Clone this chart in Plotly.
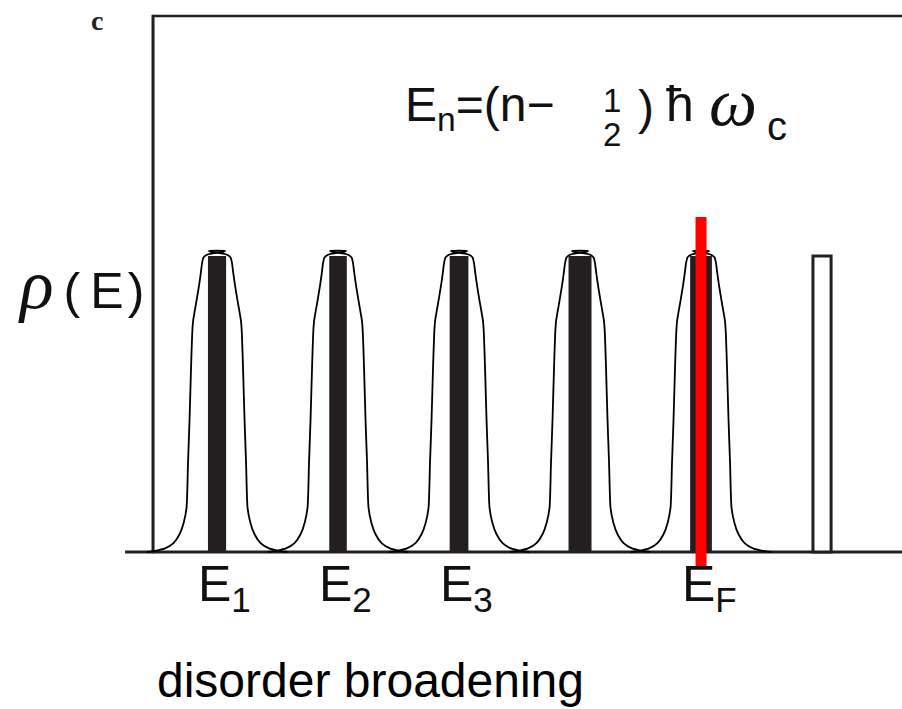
import plotly.graph_objects as go

# ---- data -------------------------------------------------------------
levels = [1, 2, 3, 4, 5]                 # Landau levels E1..E5 (units of level spacing)
level_heights = [1.0, 1.0, 1.0, 1.0, 1.0]
bar_widths = [0.15, 0.145, 0.155, 0.19, 0.18]
empty_level = [6]
empty_height = [1.0]
empty_width = [0.15]
tick_text = ["E<sub>1</sub>", "E<sub>2</sub>", "E<sub>3</sub>", "", "E<sub>F</sub>"]
fermi_energy = 5.0
fermi_y = [-0.054, 1.132]

# disorder-broadened profile (left half):
# distance left of level centre (level spacings) vs height
profile_dx = [0.58, 0.50, 0.43, 0.36, 0.31, 0.275, 0.252, 0.24, 0.227, 0.215, 0.205, 0.198,
              0.169, 0.149, 0.135, 0.124, 0.112, 0.083, 0.05, 0.0, -0.04, -0.066]
profile_h = [0.0, 0.005, 0.012, 0.03, 0.06, 0.10, 0.15, 0.3, 0.45, 0.62, 0.74, 0.78,
             0.85, 0.90, 0.94, 0.975, 0.995, 1.004, 1.008, 1.011, 1.013, 1.017]

# ---- geometry of the page --------------------------------------------
L, R, T, B = 120, 0, 10, 129
PW, PH = 902 - L - R, 709 - T - B
x_range = [0.198, 6.661]
y_range = [-0.0946, 1.831]


def px(xp):
    return (xp - L) / PW


def py(yp):
    return (709 - B - yp) / PH


fig = go.Figure()

fig.add_trace(go.Bar(x=levels, y=level_heights, width=bar_widths,
                     marker=dict(color="#231f20", line=dict(width=0)),
                     showlegend=False, hoverinfo="skip"))
fig.add_trace(go.Bar(x=empty_level, y=empty_height, width=empty_width,
                     marker=dict(color="white", line=dict(color="#231f20", width=3)),
                     showlegend=False, hoverinfo="skip"))

for c in levels:
    xs = [c - d for d in profile_dx] + [c + d for d in reversed(profile_dx)]
    ys = list(profile_h) + list(reversed(profile_h))
    fig.add_trace(go.Scatter(x=xs, y=ys, mode="lines",
                             line=dict(color="black", width=1.8, shape="spline", smoothing=0.6),
                             showlegend=False, hoverinfo="skip"))

fig.add_trace(go.Scatter(x=[fermi_energy, fermi_energy], y=fermi_y, mode="lines",
                         line=dict(color="#ff0000", width=11),
                         showlegend=False, hoverinfo="skip"))

# frame
frame_left = 0.471
frame_top = 1.811
fig.add_shape(type="line", x0=frame_left, x1=frame_left, y0=-0.004, y1=frame_top + 0.004,
              line=dict(color="#231f20", width=3), layer="below")
fig.add_shape(type="line", x0=frame_left, x1=x_range[1], y0=frame_top, y1=frame_top,
              line=dict(color="#231f20", width=2.5), layer="below")
fig.add_shape(type="line", x0=0.24, x1=x_range[1], y0=0, y1=0,
              line=dict(color="#231f20", width=3), layer="below")

ann = []
sans = "Liberation Sans, Arial, sans-serif"
ink = "#111"
ann.append(dict(x=px(97), y=py(20), xref="paper", yref="paper", xanchor="center", yanchor="middle",
                text="<b>c</b>", showarrow=False,
                font=dict(family="Liberation Serif", size=28, color="#222")))
ann.append(dict(x=px(16), y=py(284), xref="paper", yref="paper", xanchor="left", yanchor="middle",
                text="<span style='font-family:Liberation Serif;font-size:70px'><i>ρ</i></span>\u2009(\u2009E\u200a)",
                showarrow=False, font=dict(family=sans, size=50, color=ink)))
# equation
ann.append(dict(x=px(403), y=py(108), xref="paper", yref="paper", xanchor="left", yanchor="middle",
                text="E<sub>n</sub>=(n−", showarrow=False, font=dict(family=sans, size=48, color=ink)))
ann.append(dict(x=px(612), y=py(100), xref="paper", yref="paper", xanchor="center", yanchor="middle",
                text="1", showarrow=False, font=dict(family=sans, size=33, color=ink)))
ann.append(dict(x=px(612), y=py(134), xref="paper", yref="paper", xanchor="center", yanchor="middle",
                text="2", showarrow=False, font=dict(family=sans, size=33, color=ink)))
ann.append(dict(x=px(636), y=py(108), xref="paper", yref="paper", xanchor="left", yanchor="middle",
                text=")", showarrow=False, font=dict(family=sans, size=48, color=ink)))
ann.append(dict(x=px(664), y=py(104), xref="paper", yref="paper", xanchor="left", yanchor="middle",
                text="ħ", showarrow=False, font=dict(family=sans, size=50, color=ink)))
ann.append(dict(x=px(733), y=py(102), xref="paper", yref="paper", xanchor="center", yanchor="middle",
                text="<i>ω</i>", showarrow=False, font=dict(family="Liberation Serif", size=68, color=ink)))
ann.append(dict(x=px(765), y=py(126), xref="paper", yref="paper", xanchor="left", yanchor="middle",
                text="c", showarrow=False, font=dict(family=sans, size=40, color=ink)))

for c, t in zip(levels, tick_text):
    if t:
        ann.append(dict(x=c, y=0, xref="x", yref="y", xanchor="left", yanchor="top",
                        xshift=-21, yshift=-2, text=t, showarrow=False,
                        font=dict(family=sans, size=50, color=ink)))

ann.append(dict(x=px(155), y=py(680), xref="paper", yref="paper", xanchor="left", yanchor="middle",
                text="disorder broadening", showarrow=False,
                font=dict(family=sans, size=48, color="black")))

fig.update_layout(
    width=902, height=709,
    margin=dict(l=L, r=R, t=T, b=B),
    paper_bgcolor="white", plot_bgcolor="white",
    barmode="overlay", showlegend=False,
    xaxis=dict(range=x_range, visible=False, fixedrange=True),
    yaxis=dict(range=y_range, visible=False, fixedrange=True),
    annotations=ann,
)

fig.write_html("out.html")
